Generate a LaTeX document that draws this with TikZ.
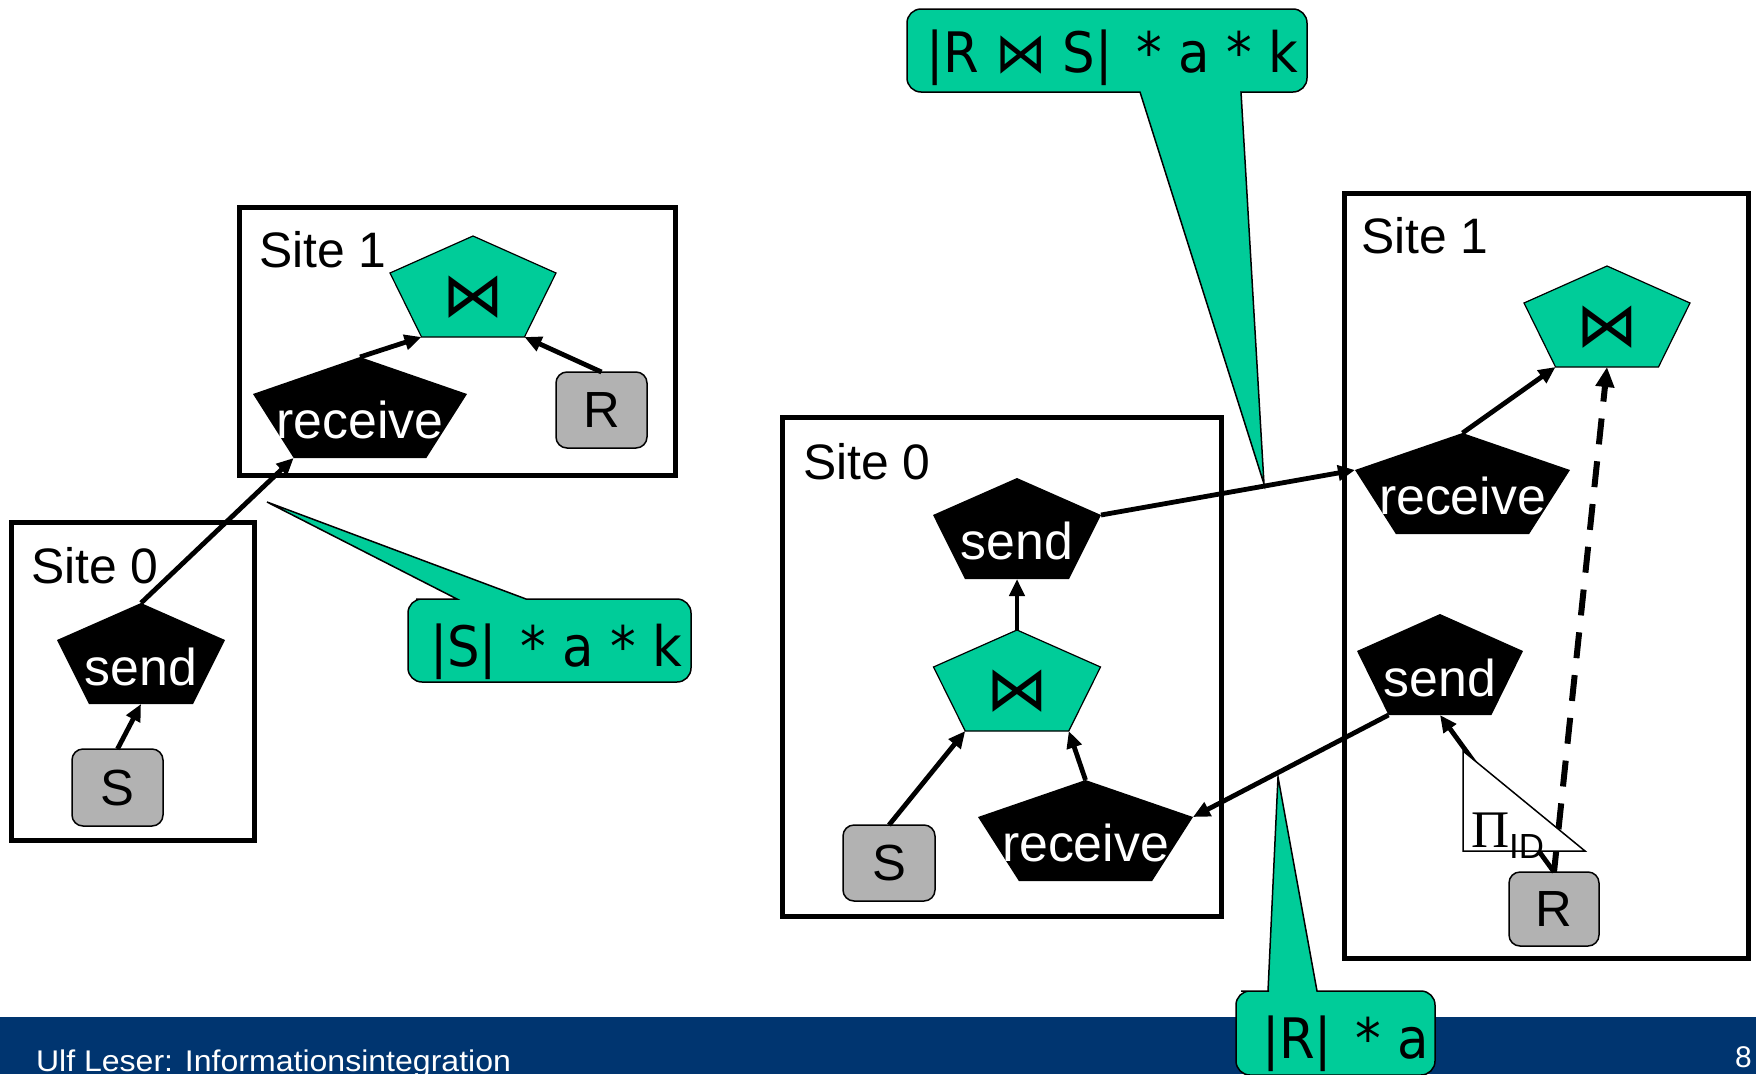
\documentclass[tikz,border=0pt]{standalone}
\usepackage{fontspec}
\setmainfont{Liberation Sans}
\newfontfamily\dv{DejaVu Sans}
\newfontfamily\serifgr{Liberation Serif}
\usetikzlibrary{arrows.meta,calc}
\definecolor{tealc}{RGB}{0,204,153}
\definecolor{footblue}{RGB}{0,53,112}
\definecolor{relgray}{RGB}{178,178,178}
\tikzset{
  pics/pent/.style n args={5}{code={%
    \path[#2] (0,0) coordinate (-t) -- (#1/2,37) coordinate (-r) -- (0.31*#1,101) coordinate (-br)
      -- (-0.31*#1,101) coordinate (-bl) -- (-#1/2,37) coordinate (-l) -- cycle;
    \coordinate (-b) at (0,101);
    \node[#3] (-txt) at (0,#4) {#5};
  }}
}
\begin{document}
\begin{tikzpicture}[x=1bp,y=-1bp,
  every node/.style={inner sep=0pt, outer sep=0pt},
  sitebox/.style={draw=black, line width=5bp, rectangle},
  sitelbl/.style={anchor=base west, font=\fontsize{50}{60}\selectfont},
  relbox/.style={draw=black, line width=1.5bp, fill=relgray, rounded corners=11bp, font=\fontsize{51}{60}\selectfont},
  ptxt/.style={anchor=base, text=white, font=\fontsize{52}{60}\selectfont},
  jtxt/.style={anchor=center, font=\dv\fontsize{62}{66}\selectfont},
  conn/.style={line width=4.8bp, -{Triangle[length=17bp,width=15bp]}},
  dconn/.style={line width=6bp, dash pattern=on 26bp off 17bp, -{Triangle[length=20bp,width=18bp]}},
  callout/.style={fill=tealc, draw=black, line width=1.5bp, rounded corners=14bp},
  ctxt/.style={anchor=base west, font=\dv\fontsize{56}{60}\selectfont},
]
\useasboundingbox (0,0) rectangle (1756,1074);
\fill[white] (0,0) rectangle (1756,1074);

% footer
\node[fill=footblue, minimum width=1756bp, minimum height=57bp, anchor=north west] (foot) at (0,1017) {};
\node[anchor=base west, text=white] (foottxt) at (36,1071)
  {\resizebox{475bp}{\height}{\fontsize{30}{30}\selectfont Ulf Leser: Informationsintegration}};
\node[anchor=base west, text=white, font=\fontsize{30}{30}\selectfont] (pageno) at (1735,1067) {8};

% site boxes
\node[sitebox, minimum width=436bp, minimum height=268bp] (boxL1) at (457.5,341.5) {};
\node[sitebox, minimum width=243bp, minimum height=318bp] (boxL0) at (133,681.5) {};
\node[sitebox, minimum width=439bp, minimum height=499bp] (boxR0) at (1002,667) {};
\node[sitebox, minimum width=404bp, minimum height=765bp] (boxR1) at (1546,576) {};

\node[sitelbl] (lblL1) at (259,267) {Site 1};
\node[sitelbl] (lblL0) at (31,583) {Site 0};
\node[sitelbl] (lblR0) at (803,479) {Site 0};
\node[sitelbl] (lblR1) at (1361,253) {Site 1};

% left plan
\pic (jL) at (473,236) {pent={166}{{fill=tealc, draw=black, line width=1.2bp}}{jtxt}{61}{⋈}};
\pic (rL) at (360,357) {pent={214}{{fill=black}}{ptxt}{81}{receive}};
\pic (sL) at (141,603) {pent={168}{{fill=black}}{ptxt}{82}{send}};
\node[relbox, minimum width=91bp, minimum height=76bp] (RL) at (601.5,410) {R};
\node[relbox, minimum width=91bp, minimum height=77bp] (SL) at (117.5,787.5) {S};

\draw[conn] (SL.north) -- (sL-b);
\draw[conn] (sL-t) -- (rL-bl);
\draw[conn] (rL-t) -- (jL-bl);
\draw[conn] (RL.north) -- (jL-br);

% right plan, site 0
\pic (sR0) at (1017,478) {pent={168}{{fill=black}}{ptxt}{81}{send}};
\pic (jR0) at (1017,630) {pent={167}{{fill=tealc, draw=black, line width=1.2bp}}{jtxt}{61}{⋈}};
\pic (rR0) at (1085.5,780) {pent={215}{{fill=black}}{ptxt}{81}{receive}};
\node[relbox, minimum width=92bp, minimum height=76bp] (SR) at (889,863) {S};

% right plan, site 1
\pic (jR1) at (1607,266) {pent={166}{{fill=tealc, draw=black, line width=1.2bp}}{jtxt}{61}{⋈}};
\pic (rR1) at (1462.5,433) {pent={215}{{fill=black}}{ptxt}{81}{receive}};
\pic (sR1) at (1440,614) {pent={166}{{fill=black}}{ptxt}{82}{send}};
\node[relbox, minimum width=90bp, minimum height=74bp] (RR) at (1554,909) {R};

\draw[conn] (SR.north) -- (jR0-bl);
\draw[conn] (rR0-t) -- (jR0-br);
\draw[conn] (jR0-t) -- (sR0-b);
\draw[conn] (sR0-r) -- (rR1-l);
\draw[conn] (sR1-bl) -- (rR0-r);
\draw[conn] (rR1-t) -- (jR1-bl);
\draw[conn] (RR.north) -- (sR1-b);
\draw[dconn] (RR.north) -- (jR1-b);

% projection triangle
\coordinate (pA) at (1463,751);
\coordinate (pB) at (1463,851);
\coordinate (pC) at (1585,851);
\filldraw[fill=white, draw=black, line width=1.5bp] (pA) -- (pB) -- (pC) -- cycle;
\node[anchor=base west] (proj) at (1471,847)
  {\serifgr\fontsize{53}{55}\selectfont Π\raisebox{-11bp}{\rmfamily\fontsize{35}{35}\selectfont ID}};

% callouts
\coordinate (tipL) at (267,502);
\path[callout] (600,599) -- (691,599) -- (691,682) -- (408,682) -- (408,599) -- (430,599)
  [sharp corners] -- (457,599) -- (tipL) -- (526,599) -- (560,599) [rounded corners=14bp] -- cycle;
\node[ctxt] (cL) at (430,666) {\scalebox{0.92}[1]{|S|\hspace{8bp} * a * k}};

\coordinate (tipT) at (1264,484);
\path[callout] (1000,9) -- (1307,9) -- (1307,92) -- (1270,92) [sharp corners] -- (1241,92)
  -- (tipT) -- (1140,92) -- (1110,92) [rounded corners=14bp] -- (907,92) -- (907,9) -- cycle;
\node[ctxt] (cT) at (926,72) {\scalebox{0.92}[1]{|R ⋈ S|\hspace{8bp} * a * k}};

\coordinate (tipB) at (1278,777);
\path[callout] (1380,991) -- (1435,991) -- (1435,1075) -- (1236,1075) -- (1236,991) -- (1255,991)
  [sharp corners] -- (1268,991) -- (tipB) -- (1317,991) -- (1340,991) [rounded corners=14bp] -- cycle;
\node[ctxt] (cB) at (1262,1058) {\scalebox{0.92}[1]{|R|\hspace{8bp} * a}};
\end{tikzpicture}
\end{document}
